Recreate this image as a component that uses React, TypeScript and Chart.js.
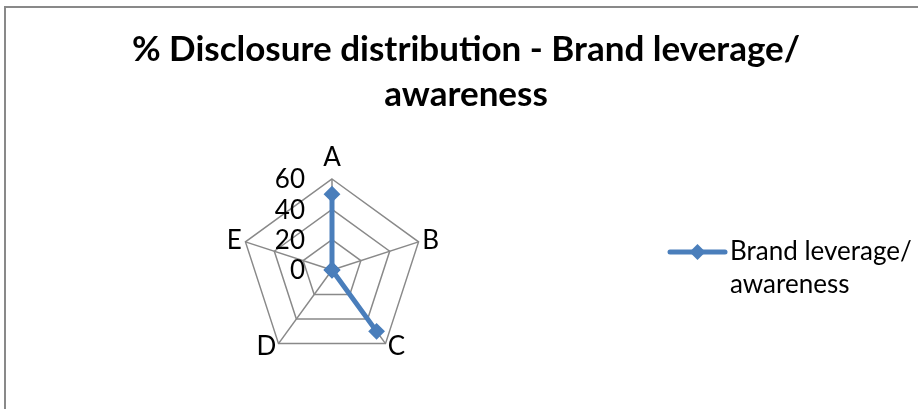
import React, { useEffect, useRef } from 'react';
import { Chart, registerables } from 'chart.js';

Chart.register(...registerables);

// ---- data ----
const categories = ['A', 'B', 'C', 'D', 'E'];
const seriesName = 'Brand leverage/ awareness';
const seriesValues = [50, 0, 50, 0, 0];
const tickValues = [0, 20, 40, 60];
const titleLines = ['% Disclosure distribution - Brand leverage/', 'awareness'];
const legendLines = ['Brand leverage/', 'awareness'];

// ---- styles ----
const BLUE = '#4A7EBB';
const GRID = '#898989';
const FONT = 'Lato, "Open Sans", sans-serif';

const overlay = {
  id: 'overlay',
  beforeDraw(chart: any) {
    const ctx = chart.ctx;
    ctx.save();
    ctx.strokeStyle = GRID;
    ctx.lineWidth = 2;
    ctx.strokeRect(5, 7, 2000, 2000);
    ctx.restore();
  },
  afterDraw(chart: any) {
    const ctx = chart.ctx;
    const scale = chart.scales.r;
    ctx.save();
    ctx.fillStyle = '#000';

    // title
    ctx.font = `bold 35px ${FONT}`;
    ctx.textAlign = 'center';
    ctx.textBaseline = 'alphabetic';
    titleLines.forEach((t, i) => ctx.fillText(t, 466, 61 + i * 45));

    // tick labels
    ctx.font = `26px ${FONT}`;
    ctx.textAlign = 'right';
    ctx.textBaseline = 'middle';
    scale.ticks.forEach((tick: any) => {
      const d = scale.getDistanceFromCenterForValue(tick.value);
      ctx.fillText(String(tick.label), scale.xCenter - 27, scale.yCenter - d + 1);
    });

    // point labels
    categories.forEach((lab, i) => {
      const top = i === 0;
      const p = scale.getPointPosition(i, scale.drawingArea + (top ? 13 : 4));
      if (top) {
        ctx.textAlign = 'center';
        ctx.textBaseline = 'alphabetic';
      } else {
        ctx.textAlign = p.x > scale.xCenter ? 'left' : 'right';
        ctx.textBaseline = 'middle';
      }
      ctx.fillText(lab, p.x, p.y);
    });

    // legend
    const ly = 252;
    ctx.strokeStyle = BLUE;
    ctx.lineWidth = 5;
    ctx.lineCap = 'round';
    ctx.beginPath();
    ctx.moveTo(670, ly);
    ctx.lineTo(725, ly);
    ctx.stroke();
    ctx.fillStyle = BLUE;
    ctx.beginPath();
    ctx.moveTo(697.5, ly - 8);
    ctx.lineTo(705.5, ly);
    ctx.lineTo(697.5, ly + 8);
    ctx.lineTo(689.5, ly);
    ctx.closePath();
    ctx.fill();
    ctx.fillStyle = '#000';
    ctx.font = `26px ${FONT}`;
    ctx.textAlign = 'left';
    ctx.textBaseline = 'alphabetic';
    legendLines.forEach((t, i) => ctx.fillText(t, 730, 260 + i * 33));
    ctx.restore();
  },
};

export default function App() {
  const ref = useRef<HTMLCanvasElement | null>(null);
  useEffect(() => {
    if (!ref.current) return;
    const chart = new Chart(ref.current, {
      type: 'radar',
      data: {
        labels: categories,
        datasets: [
          {
            label: seriesName,
            data: seriesValues,
            borderColor: BLUE,
            backgroundColor: BLUE,
            borderWidth: 5,
            fill: false,
            pointStyle: 'rectRot',
            pointRadius: 7,
            pointBorderWidth: 2,
            pointBackgroundColor: BLUE,
            pointBorderColor: BLUE,
            tension: 0,
          },
        ],
      },
      options: {
        responsive: false,
        animation: false,
        layout: { padding: { left: 241, top: 179, right: 495, bottom: 48 } },
        plugins: {
          legend: { display: false },
          title: { display: false },
          tooltip: { enabled: false },
        },
        scales: {
          r: {
            min: 0,
            max: 60,
            afterBuildTicks: (s: any) => {
              s.ticks = tickValues.map((v) => ({ value: v }));
            },
            ticks: { display: false, stepSize: 20 },
            grid: { color: GRID, lineWidth: 1.5 },
            angleLines: { color: GRID, lineWidth: 1.5 },
            pointLabels: { display: false },
          },
        },
      },
      plugins: [overlay],
    });
    return () => chart.destroy();
  }, []);
  return (
    <div style={{ position: 'fixed', left: 0, top: 0, width: 918, height: 409, background: '#fff' }}>
      <canvas ref={ref} width={918} height={409} />
    </div>
  );
}
